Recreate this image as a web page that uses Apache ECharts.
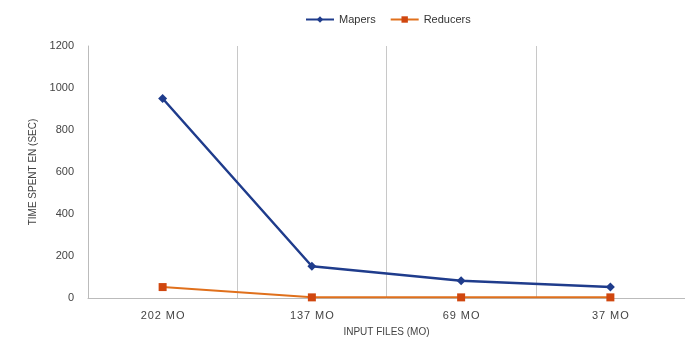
<!DOCTYPE html>
<html>
<head>
<meta charset="utf-8">
<script src="https://cdn.jsdelivr.net/npm/echarts@6/dist/echarts.min.js"></script>
<style>
  html, body { margin: 0; padding: 0; background: #fff; }
  #chart { width: 685px; height: 342px; }
</style>
</head>
<body>
<div id="chart"></div>
<script>
const categories = ['202 MO', '137 MO', '69 MO', '37 MO'];
const mapers = [950, 151, 82, 52];
const reducers = [52, 3, 3, 3];
const yTicks = [0, 200, 400, 600, 800, 1000, 1200];

const chart = echarts.init(document.getElementById('chart'));
const font = 'Liberation Sans, Noto Sans, sans-serif';

chart.setOption({
  animation: false,
  textStyle: { fontFamily: font },
  legend: {
    top: 9, left: 300,
    itemWidth: 28, itemHeight: 8, itemGap: 14,
    textStyle: { fontSize: 11, color: '#333' },
    data: ['Mapers', 'Reducers'],
  },
  grid: { left: 88, right: -2, top: 46, bottom: 42 },
  xAxis: {
    type: 'category',
    data: categories,
    boundaryGap: true,
    axisLine: { lineStyle: { color: '#bbb' } },
    axisTick: { show: false },
    splitLine: { show: true, lineStyle: { color: '#c8c8c8' } },
    axisLabel: { fontSize: 11, color: '#444', margin: 12, formatter: v => v.split('').join('\u200a') },
    name: 'INPUT FILES (MO)',
    nameLocation: 'middle',
    nameGap: 29,
    nameTextStyle: { fontSize: 10, color: '#444' },
  },
  yAxis: {
    type: 'value',
    min: 0, max: yTicks[yTicks.length - 1], interval: 200,
    axisLine: { show: true, lineStyle: { color: '#bbb' } },
    axisTick: { show: false },
    splitLine: { show: false },
    axisLabel: { fontSize: 11, color: '#444', margin: 14, formatter: v => String(v) },
    name: 'TIME SPENT EN (SEC)',
    nameLocation: 'middle',
    nameGap: 44,
    nameTextStyle: { fontSize: 10, color: '#444' },
  },
  series: [
    {
      name: 'Mapers', type: 'line', data: mapers,
      symbol: 'diamond', symbolSize: 9,
      lineStyle: { color: '#1f3c8c', width: 2.5 },
      itemStyle: { color: '#1f3c8c' },
    },
    {
      name: 'Reducers', type: 'line', data: reducers,
      symbol: 'rect', symbolSize: 8,
      lineStyle: { color: '#e0701c', width: 2 },
      itemStyle: { color: '#d0470f' },
    },
  ],
});
</script>
</body>
</html>
